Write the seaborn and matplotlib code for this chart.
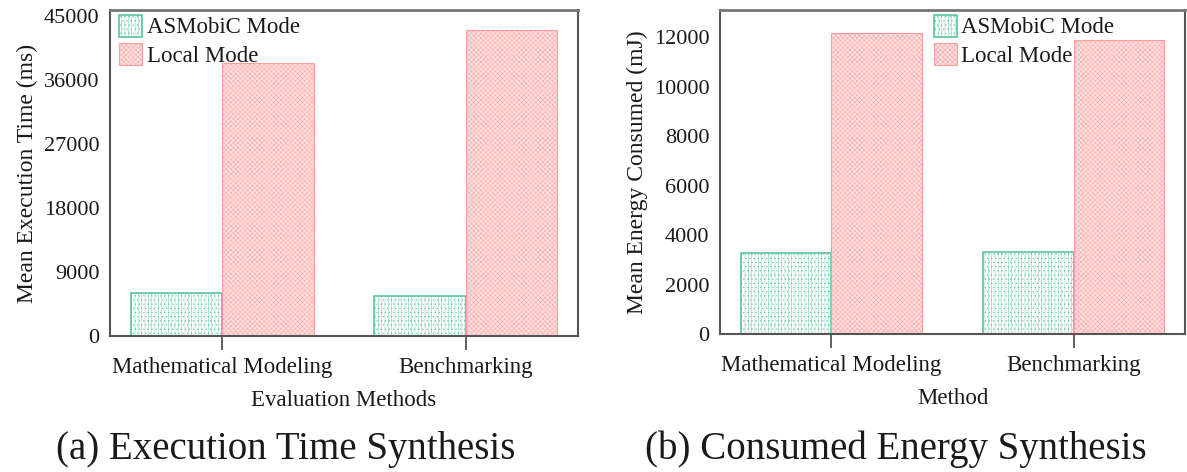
import matplotlib
matplotlib.use('Agg')
import matplotlib.pyplot as plt
import seaborn as sns
import pandas as pd
import numpy as np

# data
methods = ['Mathematical Modeling', 'Benchmarking']
modes = ['ASMobiC Mode', 'Local Mode']
time_asmobic = [6000, 5650]
time_local = [38300, 43000]
energy_asmobic = [3290, 3320]
energy_local = [12160, 11890]

teal = '#5cc4a6'
pink = '#ff9c9c'
pink_face = '#ffdede'

sns.set_style('white')
plt.rcParams['font.family'] = ['Liberation Serif', 'DejaVu Serif']
plt.rcParams['hatch.linewidth'] = 0.3
plt.rcParams['text.color'] = '#1a1a1a'
plt.rcParams['axes.labelcolor'] = '#1a1a1a'
plt.rcParams['xtick.labelcolor'] = '#1a1a1a'
plt.rcParams['ytick.labelcolor'] = '#1a1a1a'


def make_df(a, b):
	rows = []
	for m, v in zip(methods, a): rows.append((m, modes[0], v))
	for m, v in zip(methods, b): rows.append((m, modes[1], v))
	return pd.DataFrame(rows, columns=['Method', 'Mode', 'Value'])


def draw(ax, df, ylabel, xlabel, yticks, ytop, leg_x):
	sns.barplot(data=df, x='Method', y='Value', hue='Mode', hue_order=modes,
				palette=[teal, pink], width=0.75, saturation=1, ax=ax, legend=False)
	# style the hatched bars
	for bar in ax.containers[0]:
		bar.set_facecolor('white'); bar.set_edgecolor(teal)
		bar.set_hatch('|||||....'); bar.set_linewidth(1.2)
	for bar in ax.containers[1]:
		bar.set_facecolor(pink_face); bar.set_edgecolor(pink)
		bar.set_hatch('xxxxxxx'); bar.set_linewidth(0.8)
	ax.set_xlim(-0.46, 1.46)
	ax.set_ylim(0, ytop)
	ax.set_yticks(yticks)
	ax.set_ylabel(ylabel, fontsize=17)
	ax.set_xlabel(xlabel, fontsize=16.5, labelpad=9)
	ax.tick_params(axis='y', direction='inout', length=13, width=1.2, color='#444', labelsize=16, pad=1)
	ax.tick_params(axis='x', direction='out', length=10, width=1.2, color='#444', labelsize=16.5, pad=5, bottom=True)
	for s in ax.spines.values():
		s.set_color('#555'); s.set_linewidth(1.5)
	ax.spines['top'].set_color('#777'); ax.spines['top'].set_linewidth(2)
	handles = [ax.containers[0][0], ax.containers[1][0]]
	ax.legend(handles, modes, loc='upper left', bbox_to_anchor=(leg_x, 1.0), frameon=False,
			  fontsize=16.5, handlelength=1.0, handleheight=1.1, handletextpad=0.2,
			  labelspacing=0.2, borderaxespad=0.1, borderpad=0.1)


fig = plt.figure(figsize=(11.87, 4.72), dpi=100)
ax1 = fig.add_axes([110/1187, 1-336/472, (578-110)/1187, (336-10)/472])
ax2 = fig.add_axes([720/1187, 1-334/472, (1185-720)/1187, (334-10)/472])

draw(ax1, make_df(time_asmobic, time_local), 'Mean Execution Time (ms)', 'Evaluation Methods',
	 [0, 9000, 18000, 27000, 36000, 45000], 45800, 0.01)
draw(ax2, make_df(energy_asmobic, energy_local), 'Mean Energy Consumed (mJ)', 'Method',
	 [0, 2000, 4000, 6000, 8000, 10000, 12000], 13100, 0.45)

fig.text(286/1187, 1-449/472, '(a) Execution Time Synthesis', fontsize=28, ha='center', va='center')
fig.text(896/1187, 1-449/472, '(b) Consumed Energy Synthesis', fontsize=28, ha='center', va='center')

fig.savefig('out.png', dpi=100)
